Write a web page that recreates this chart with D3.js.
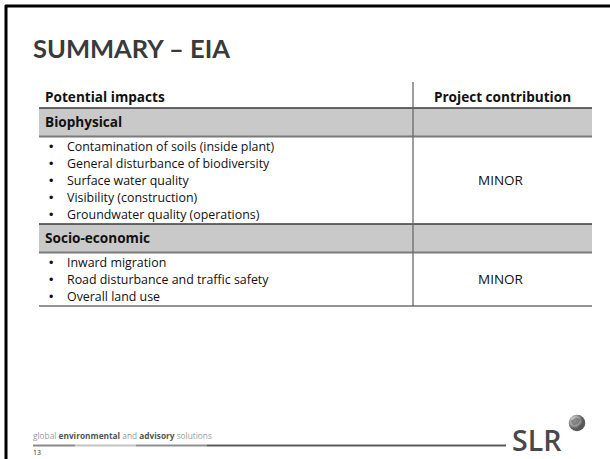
<!DOCTYPE html>
<html>
<head>
<meta charset="utf-8">
<script src="https://cdn.jsdelivr.net/npm/d3@7"></script>
<style>
  html, body { margin: 0; padding: 0; background: #fff; }
  svg { display: block; }
</style>
</head>
<body>
<svg id="chart" width="610" height="459"></svg>
<script>
// ---- data ----
const title = "SUMMARY – EIA";
const columnHeaders = ["Potential impacts", "Project contribution"];
const sections = ["Biophysical", "Socio-economic"];
const biophysicalImpacts = [
  "Contamination of soils (inside plant)",
  "General disturbance of biodiversity",
  "Surface water quality",
  "Visibility (construction)",
  "Groundwater quality (operations)"
];
const socioEconomicImpacts = [
  "Inward migration",
  "Road disturbance and traffic safety",
  "Overall land use"
];
const contributions = ["MINOR", "MINOR"];
const footerWords = [
  ["global ", false], ["environmental", true], [" and ", false],
  ["advisory", true], [" solutions", false]
];
const pageNumber = "13";
const logoText = "SLR";

// ---- layout ----
const svg = d3.select("#chart");
const font = "'Open Sans', sans-serif";
const titleFont = "Lato, 'Open Sans', sans-serif";

// frame
svg.append("rect").attr("x", 0).attr("y", 0).attr("width", 610).attr("height", 459).attr("fill", "#fff");
svg.append("line").attr("x1", 6).attr("x2", 6).attr("y1", 5).attr("y2", 459)
  .attr("stroke", "#000").attr("stroke-width", 3);
svg.append("line").attr("x1", 5).attr("x2", 610).attr("y1", 6).attr("y2", 6)
  .attr("stroke", "#000").attr("stroke-width", 3);

// title
svg.append("text").attr("x", 33).attr("y", 58)
  .attr("font-family", titleFont).attr("font-weight", 700).attr("font-size", 25.5)
  .attr("fill", "#3a3a3a").text(title);

// table scales
const x = d3.scaleLinear().domain([0, 1]).range([39, 592]);
const splitX = 413;
const colCenter = (splitX + x(1)) / 2;

// build row model from data
const blocks = [
  { section: sections[0], items: biophysicalImpacts, value: contributions[0] },
  { section: sections[1], items: socioEconomicImpacts, value: contributions[1] }
];
const rows = [];
let cursor = 82;
rows.push({ type: "header", y0: cursor, y1: cursor + 26 }); cursor += 26;
blocks.forEach((b) => {
  rows.push({ type: "band", label: b.section, y0: cursor, y1: cursor + 28.5 }); cursor += 28.5;
  const pad = 1.5;
  const itemH = 17;
  const start = cursor;
  const y = d3.scaleLinear().domain([0, b.items.length]).range([start + pad, start + pad + itemH * b.items.length]);
  b.items.forEach((t, i) => rows.push({ type: "item", label: t, cy: (y(i) + y(i + 1)) / 2 }));
  cursor = y(b.items.length) + 1;
  rows.push({ type: "value", label: b.value, cy: (start + cursor) / 2, y0: start, y1: cursor });
});
const tableBottom = cursor;

const g = svg.append("g");

// bands
g.selectAll("rect.band").data(rows.filter(r => r.type === "band")).join("rect")
  .attr("class", "band").attr("x", x(0)).attr("width", x(1) - x(0))
  .attr("y", d => d.y0).attr("height", d => d.y1 - d.y0).attr("fill", "#c9c9c9");

// horizontal lines
const hLines = [];
rows.filter(r => r.type === "band").forEach(r => { hLines.push({ y: r.y0, c: "#3a3a3a", w: 1.3 }); hLines.push({ y: r.y1, c: "#7a7a7a", w: 2 }); });
hLines.push({ y: tableBottom, c: "#707070", w: 1.5 });
g.selectAll("line.h").data(hLines).join("line").attr("class", "h")
  .attr("x1", x(0)).attr("x2", x(1)).attr("y1", d => d.y).attr("y2", d => d.y)
  .attr("stroke", d => d.c).attr("stroke-width", d => d.w);

// vertical divider
g.append("line").attr("x1", splitX).attr("x2", splitX).attr("y1", 82).attr("y2", tableBottom)
  .attr("stroke", "#6a6a6a").attr("stroke-width", 1.3);

// header texts
const hdrSize = 13.6;
g.append("text").attr("x", 45).attr("y", 101.5).attr("font-family", font).attr("font-weight", 700)
  .attr("font-size", hdrSize).attr("fill", "#111").text(columnHeaders[0]);
g.append("text").attr("x", colCenter).attr("y", 101.5).attr("text-anchor", "middle").attr("font-family", font).attr("font-weight", 700)
  .attr("font-size", hdrSize).attr("fill", "#111").text(columnHeaders[1]);

// band labels
g.selectAll("text.band").data(rows.filter(r => r.type === "band")).join("text").attr("class", "band")
  .attr("x", 45).attr("y", d => (d.y0 + d.y1) / 2).attr("dy", "0.36em")
  .attr("font-family", font).attr("font-weight", 700).attr("font-size", hdrSize).attr("fill", "#111")
  .text(d => d.label);

// items
const bodySize = 12.4;
const items = g.selectAll("g.item").data(rows.filter(r => r.type === "item")).join("g").attr("class", "item");
items.append("text").attr("x", 49).attr("y", d => d.cy).attr("dy", "0.35em")
  .attr("font-family", "Arial, sans-serif").attr("font-size", 12.5).attr("fill", "#111").text("•");
items.append("text").attr("x", 67).attr("y", d => d.cy).attr("dy", "0.35em")
  .attr("font-family", font).attr("font-size", bodySize).attr("fill", "#111").text(d => d.label);

// values
g.selectAll("text.value").data(rows.filter(r => r.type === "value")).join("text").attr("class", "value")
  .attr("x", colCenter - 2).attr("y", d => d.cy).attr("dy", "0.35em").attr("text-anchor", "middle")
  .attr("font-family", font).attr("font-size", 13.5).attr("fill", "#111").text(d => d.label);

// footer
const ft = svg.append("text").attr("x", 33).attr("y", 439).attr("font-family", font).attr("font-size", 8.3);
ft.selectAll("tspan").data(footerWords).join("tspan")
  .attr("font-weight", d => d[1] ? 700 : 400).attr("fill", d => d[1] ? "#555" : "#9a9a9a")
  .text(d => d[0]);

const stripe = [[33, 75, "#8a8a8a"], [75, 136, "#c4c4c4"], [136, 207, "#8f8f8f"], [207, 506, "#5a5a5a"]];
svg.selectAll("line.stripe").data(stripe).join("line").attr("class", "stripe")
  .attr("x1", d => d[0]).attr("x2", d => d[1]).attr("y1", 445.5).attr("y2", 445.5)
  .attr("stroke", d => d[2]).attr("stroke-width", 2);

svg.append("text").attr("x", 33).attr("y", 455).attr("font-family", font).attr("font-size", 7).attr("fill", "#333").text(pageNumber);

// logo
svg.append("text").attr("x", 512).attr("y", 451).attr("font-family", font).attr("font-weight", 600)
  .attr("font-size", 28.5).attr("fill", "#484848").text(logoText);
const defs = svg.append("defs");
const grad = defs.append("radialGradient").attr("id", "gl").attr("cx", "35%").attr("cy", "35%");
grad.append("stop").attr("offset", "0%").attr("stop-color", "#f2f2f2");
grad.append("stop").attr("offset", "60%").attr("stop-color", "#a0a0a0");
grad.append("stop").attr("offset", "100%").attr("stop-color", "#5a5a5a");
const globe = svg.append("g").attr("transform", "translate(577,423)");
globe.append("circle").attr("r", 8.3).attr("fill", "url(#gl)");
globe.append("path").attr("d", "M-6.5,-2 L-1,-5.5 L3.5,-3.5 L1,1 L-3.5,2.5 Z").attr("fill", "#666").attr("opacity", 0.7);
globe.append("path").attr("d", "M2,2 L6.5,0 L5.5,5.5 L1,6.5 Z").attr("fill", "#555").attr("opacity", 0.7);
</script>
</body>
</html>
